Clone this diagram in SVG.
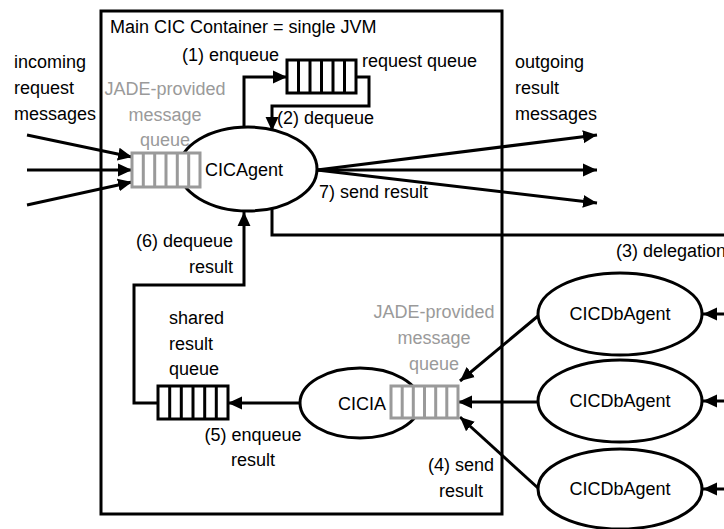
<svg xmlns="http://www.w3.org/2000/svg" width="724" height="529" viewBox="0 0 724 529">
<style>
text{font-family:"Liberation Sans",Arial,sans-serif;font-size:18px;fill:#000}
.g{fill:#9a9a9a}
.m{text-anchor:middle}
.e{text-anchor:end}
.ln{fill:none;stroke:#000;stroke-width:3}
.ar{marker-end:url(#ah)}
.el{fill:#fff;stroke:#000;stroke-width:3}
.qb{fill:#fff;stroke:#000;stroke-width:3}
.qg{fill:#fff;stroke:#9a9a9a;stroke-width:3}
</style>
<defs>
<marker id="ah" markerUnits="userSpaceOnUse" markerWidth="14" markerHeight="14" refX="13" refY="6" orient="auto" viewBox="0 0 13 12"><path d="M0,0 L13,6 L0,12 z" fill="#000"/></marker>
</defs>
<rect id="container" x="101" y="11" width="401" height="503" fill="none" stroke="#000" stroke-width="3"/>
<text x="110" y="33">Main CIC Container = single JVM</text>
<g id="connectors">
<path class="ln ar" d="M27,135 L132,157"/>
<path class="ln ar" d="M27,170 L132,170"/>
<path class="ln ar" d="M27,205 L132,182"/>
<path class="ln ar" d="M317,170 L597,135"/>
<path class="ln ar" d="M317,170 L597,170"/>
<path class="ln ar" d="M317,170 L597,203"/>
<path class="ln ar" d="M244,128 L244,77 L287,77"/>
<path class="ln ar" d="M356,77 L369,77 L369,106 L272,106 L272,131"/>
<path class="ln" d="M272,208 L272,235 L724,235"/>
<path class="ln ar" d="M158,403 L134,403 L134,285 L244,285 L244,212"/>
<path class="ln ar" d="M300,403 L228,403"/>
<path class="ln ar" d="M538,316 L460,381"/>
<path class="ln ar" d="M538,402 L458,402"/>
<path class="ln ar" d="M538,488 L460,417"/>
<path class="ln ar" d="M724,314 L703,314"/>
<path class="ln ar" d="M724,401 L703,401"/>
<path class="ln ar" d="M724,489 L703,489"/>
</g>
<g id="labels-left">
<text x="14" y="68">incoming</text>
<text x="14" y="94">request</text>
<text x="14" y="120">messages</text>
</g>
<g id="labels-right">
<text x="515" y="68">outgoing</text>
<text x="515" y="94">result</text>
<text x="515" y="120">messages</text>
</g>
<g id="request-queue">
<rect class="qb" x="287" y="60" width="69" height="33"/>
<path class="ln" d="M298.5,60V93M310,60V93M321.5,60V93M333,60V93M344.5,60V93"/>
<text x="362" y="67">request queue</text>
</g>
<text x="182" y="61">(1) enqueue</text>
<text x="277" y="124">(2) dequeue</text>
<g id="cicagent">
<ellipse class="el" cx="248" cy="169" rx="69" ry="42"/>
<text x="205" y="176">CICAgent</text>
</g>
<g id="jade-queue-1">
<text class="g m" x="165" y="95">JADE-provided</text>
<text class="g m" x="165" y="121">message</text>
<text class="g m" x="165" y="146">queue</text>
<rect class="qg" x="132" y="153" width="68" height="34"/>
<path fill="none" stroke="#9a9a9a" stroke-width="3" d="M143.3,153V187M154.7,153V187M166,153V187M177.3,153V187M188.7,153V187"/>
</g>
<text x="319" y="198">7) send result</text>
<text x="616" y="257">(3) delegation</text>
<text class="e" x="233" y="247">(6) dequeue</text>
<text class="e" x="233" y="273">result</text>
<g id="shared-queue">
<text x="169" y="324">shared</text>
<text x="169" y="350">result</text>
<text x="169" y="375">queue</text>
<rect class="qb" x="158" y="386" width="70" height="33"/>
<path class="ln" d="M169.7,386V419M181.3,386V419M193,386V419M204.7,386V419M216.3,386V419"/>
</g>
<text class="m" x="253" y="441">(5) enqueue</text>
<text class="m" x="253" y="466">result</text>
<g id="cicia">
<ellipse class="el" cx="360" cy="403" rx="60" ry="35"/>
<text class="m" x="362" y="410">CICIA</text>
</g>
<g id="jade-queue-2">
<text class="g m" x="434" y="318">JADE-provided</text>
<text class="g m" x="434" y="344">message</text>
<text class="g m" x="434" y="370">queue</text>
<rect class="qg" x="391" y="386" width="67" height="32"/>
<path fill="none" stroke="#9a9a9a" stroke-width="3" d="M402.2,386V418M413.3,386V418M424.5,386V418M435.7,386V418M446.8,386V418"/>
</g>
<text class="m" x="461" y="471">(4) send</text>
<text class="m" x="461" y="497">result</text>
<g id="cicdbagent-1">
<ellipse class="el" cx="620" cy="314" rx="82" ry="41"/>
<text class="m" x="620" y="320">CICDbAgent</text>
</g>
<g id="cicdbagent-2">
<ellipse class="el" cx="620" cy="401" rx="82" ry="41"/>
<text class="m" x="620" y="407">CICDbAgent</text>
</g>
<g id="cicdbagent-3">
<ellipse class="el" cx="620" cy="489" rx="82" ry="40"/>
<text class="m" x="620" y="495">CICDbAgent</text>
</g>
</svg>
